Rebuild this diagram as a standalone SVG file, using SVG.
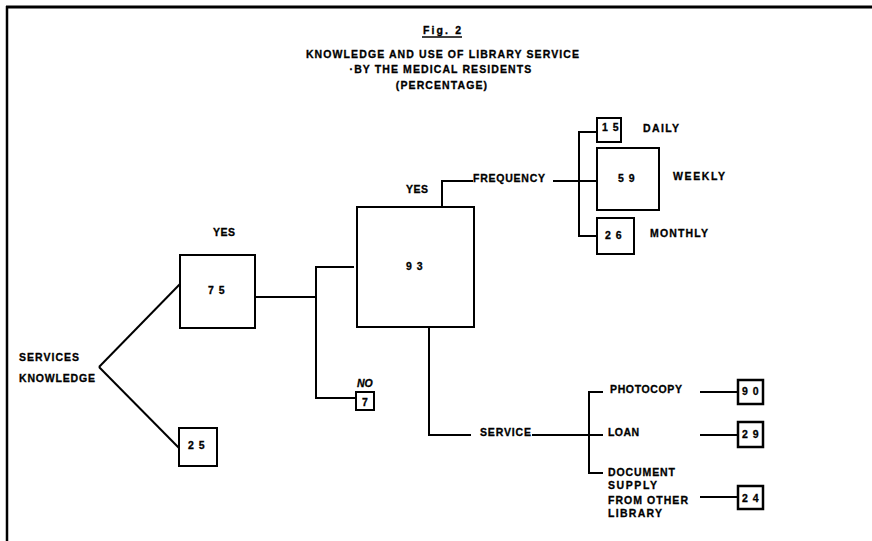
<svg xmlns="http://www.w3.org/2000/svg" width="872" height="541" viewBox="0 0 872 541">
<style>
text{font-family:"Liberation Sans",Arial,sans-serif;font-weight:bold;font-size:10.5px;fill:#000;stroke:#000;stroke-width:0.3px}
.t{text-anchor:middle;letter-spacing:1.1px}
.num{letter-spacing:5px}
.box{fill:#fff;stroke:#000;stroke-width:2}
.bx2{fill:#fff;stroke:#000;stroke-width:2.5}
.ln{fill:none;stroke:#000;stroke-width:2}
</style>
<rect width="872" height="541" fill="#fff"/>
<g id="frame">
<path d="M6 7H872" stroke="#000" stroke-width="3" fill="none"/>
<path d="M7 6V541" stroke="#000" stroke-width="2.5" fill="none"/>
</g>
<g id="title">
<text x="423" y="34" textLength="38" lengthAdjust="spacing">Fig. 2</text>
<path d="M422 37H462" stroke="#000" stroke-width="1.5"/>
<text class="t" x="443" y="58">KNOWLEDGE AND USE OF LIBRARY SERVICE</text>
<text class="t" x="441" y="73">·BY THE MEDICAL RESIDENTS</text>
<text class="t" x="442" y="89">(PERCENTAGE)</text>
</g>
<g id="connectors">
<path class="ln" d="M99 367L180 284" stroke-width="3"/>
<path class="ln" d="M99 367L179 448" stroke-width="2.5"/>
<path class="ln" d="M255 297H316M354 267H316V398H356"/>
<path class="ln" d="M442 207V181H473"/>
<path class="ln" d="M553 181H597M597 132H579V236H597"/>
<path class="ln" d="M429 327V435H471"/>
<path class="ln" d="M532 435H603M603 392H589V473H603"/>
<path class="ln" d="M700 392H738M700 435H738M700 497H738"/>
</g>
<g id="root">
<text x="19" y="361" textLength="60" lengthAdjust="spacing">SERVICES</text>
<text x="19" y="382" textLength="76" lengthAdjust="spacing">KNOWLEDGE</text>
</g>
<g id="n75">
<rect class="box" x="180" y="255" width="75" height="73"/>
<text x="213" y="236" textLength="22" lengthAdjust="spacing">YES</text>
<text class="num" x="208" y="294">75</text>
</g>
<g id="n25">
<rect class="box" x="179" y="428" width="38" height="38"/>
<text class="num" x="188" y="449">25</text>
</g>
<g id="n93">
<rect class="box" x="357" y="207" width="117" height="120"/>
<text x="406" y="193" textLength="22" lengthAdjust="spacing">YES</text>
<text class="num" x="406" y="270">93</text>
</g>
<g id="n7">
<rect class="box" x="356" y="392" width="18" height="18"/>
<text x="357" y="387" font-style="italic" font-size="10px">NO</text>
<text x="362" y="406">7</text>
</g>
<g id="frequency">
<text x="473" y="182" textLength="72" lengthAdjust="spacing">FREQUENCY</text>
</g>
<g id="n15">
<rect class="box" x="597" y="118" width="24" height="24"/>
<text class="num" x="602" y="131" letter-spacing="3">15</text>
<text x="643" y="132" textLength="36" lengthAdjust="spacing">DAILY</text>
</g>
<g id="n59">
<rect class="box" x="597" y="148" width="62" height="62"/>
<text class="num" x="618" y="182">59</text>
<text x="673" y="180" textLength="52" lengthAdjust="spacing">WEEKLY</text>
</g>
<g id="n26">
<rect class="box" x="597" y="218" width="37" height="36"/>
<text class="num" x="605" y="239">26</text>
<text x="650" y="237" textLength="58" lengthAdjust="spacing">MONTHLY</text>
</g>
<g id="service">
<text x="480" y="436" textLength="51" lengthAdjust="spacing">SERVICE</text>
</g>
<g id="n90">
<text x="610" y="393" textLength="72" lengthAdjust="spacing">PHOTOCOPY</text>
<rect class="bx2" x="738" y="380" width="25" height="24"/>
<text class="num" x="742" y="395" letter-spacing="4">90</text>
</g>
<g id="n29">
<text x="608" y="436" textLength="31" lengthAdjust="spacing">LOAN</text>
<rect class="bx2" x="738" y="422" width="25" height="25"/>
<text class="num" x="742" y="438" letter-spacing="4">29</text>
</g>
<g id="n24">
<text x="608" y="476" textLength="67" lengthAdjust="spacing">DOCUMENT</text>
<text x="608" y="489" textLength="49" lengthAdjust="spacing">SUPPLY</text>
<text x="608" y="504" textLength="80" lengthAdjust="spacing">FROM OTHER</text>
<text x="608" y="517" textLength="54" lengthAdjust="spacing">LIBRARY</text>
<rect class="bx2" x="738" y="486" width="25" height="23"/>
<text class="num" x="742" y="502" letter-spacing="4">24</text>
</g>
</svg>
